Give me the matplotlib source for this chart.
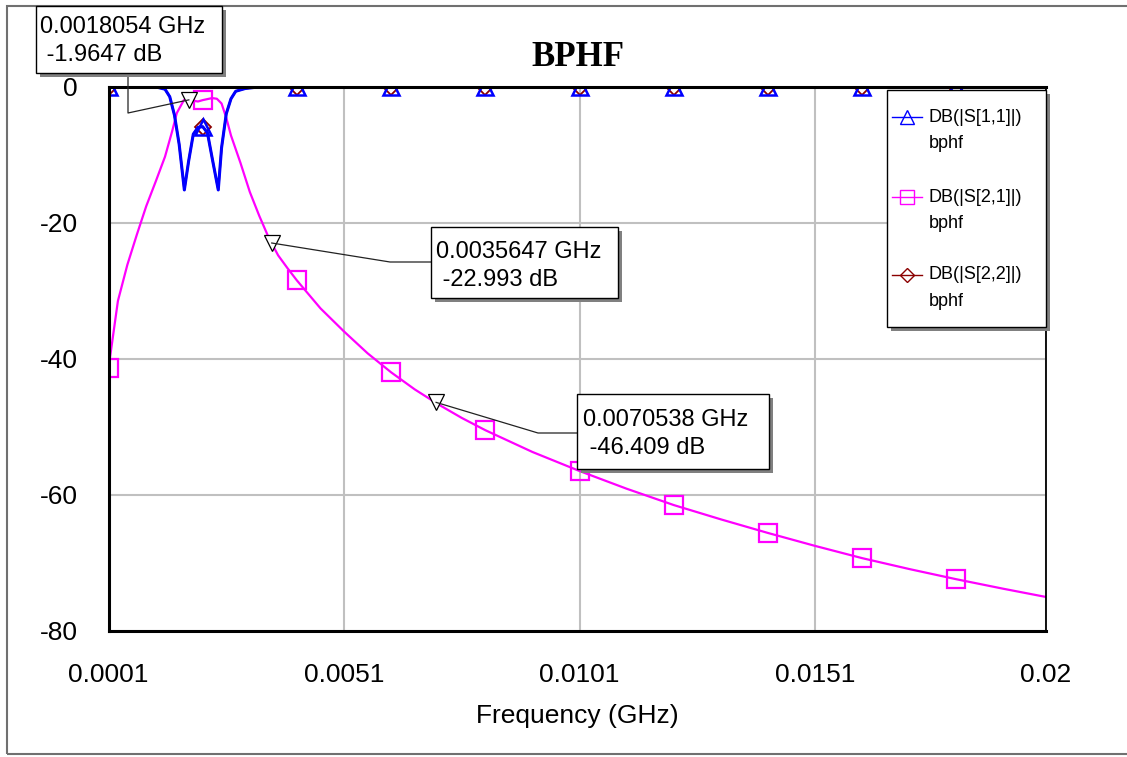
import numpy as np
import matplotlib
matplotlib.use('Agg')
import matplotlib.pyplot as plt
from matplotlib.patches import Rectangle
from matplotlib.lines import Line2D

plt.rcParams['font.family'] = ['Liberation Sans', 'DejaVu Sans']

W, H = 1127, 757

# S21 (magenta, squares)
s21_f = [0.0001, 0.0003, 0.0005, 0.0007, 0.0009, 0.0011, 0.0013, 0.00145, 0.00155,
         0.0017, 0.0018, 0.0019, 0.0020, 0.0021, 0.0023, 0.0024, 0.0025, 0.0026,
         0.0027, 0.0028, 0.0029, 0.0031, 0.0033, 0.0035, 0.0037, 0.0039, 0.0041,
         0.0046, 0.0051, 0.0056, 0.0061, 0.0066, 0.0071, 0.0076, 0.0081, 0.0091,
         0.0101, 0.0111, 0.0121, 0.0131, 0.0141, 0.0151, 0.0161, 0.0171, 0.0181,
         0.0191, 0.0200]
s21_db = [-41.4, -31.5, -26.2, -21.8, -17.6, -14.0, -10.3, -6.6, -3.9,
          -2.0, -1.8, -2.1, -2.2, -2.0, -1.7, -1.8, -2.5, -4.6,
          -7.2, -9.2, -11.2, -15.5, -19.0, -22.2, -24.8, -26.7, -28.5,
          -32.6, -36.0, -39.2, -42.0, -44.5, -46.7, -48.7, -50.5, -53.7,
          -56.5, -59.1, -61.5, -63.6, -65.6, -67.5, -69.3, -70.9, -72.4,
          -73.8, -75.0]

# S11 / S22 (blue triangles, dark red diamonds)
s11_f = [0.0001, 0.0011, 0.0013, 0.0014, 0.0015, 0.0016, 0.00171, 0.0018, 0.0019,
         0.0020, 0.0021, 0.0022, 0.0023, 0.00243, 0.0025, 0.0026, 0.0027, 0.0028,
         0.0030, 0.0033, 0.0041, 0.0061, 0.0081, 0.0101, 0.0121, 0.0141, 0.0161,
         0.0181, 0.0200]
s11_db = [0.0, -0.05, -0.4, -1.5, -4.2, -8.5, -15.2, -11.0, -7.0,
          -6.0, -5.9, -6.8, -10.5, -15.2, -9.0, -4.0, -1.8, -0.7,
          -0.3, -0.05, 0.0, 0.0, 0.0, 0.0, 0.0, 0.0, 0.0,
          0.0, 0.0]
s22_f = s11_f
s22_db = s11_db

marker_f = [0.0001, 0.0021, 0.0041, 0.0061, 0.0081, 0.0101, 0.0121, 0.0141, 0.0161, 0.0181]

# marker readouts
mk_f = [0.0018054, 0.0035647, 0.0070538]
mk_db = [-1.9647, -22.993, -46.409]

xticks = [0.0001, 0.0051, 0.0101, 0.0151, 0.02]
xtick_labels = ['0.0001', '0.0051', '0.0101', '0.0151', '0.02']
yticks = [0, -20, -40, -60, -80]

legend_names = ['DB(|S[1,1]|)', 'DB(|S[2,1]|)', 'DB(|S[2,2]|)']

C_S11 = '#0000ff'
C_S21 = '#ff00ff'
C_S22 = '#8b0000'


def fpx(x, y):
    # pixel (top-left origin) -> figure fraction
    return x / W, 1 - y / H


def idx(fs, marks):
    fs = np.array(fs)
    return [int(np.argmin(np.abs(fs - m))) for m in marks]


fig = plt.figure(figsize=(W / 100, H / 100), dpi=100)
l, b = fpx(108.5, 631)
r, t = fpx(1046, 86.5)
ax = fig.add_axes([l, b, r - l, t - b])

ax.plot(s22_f, s22_db, color=C_S22, lw=1.5, marker='D', ms=8, mfc='none', mew=1.3,
        markevery=idx(s22_f, marker_f))
ax.plot(s21_f, s21_db, color=C_S21, lw=1.6, marker='s', ms=12.5, mfc='none', mew=1.6,
        markevery=idx(s21_f, marker_f))
ax.plot(s11_f, s11_db, color=C_S11, lw=2.2, marker='^', ms=12, mfc='none', mew=1.8,
        markevery=idx(s11_f, marker_f))

ax.plot(mk_f, mk_db, ls='none', marker='v', ms=11, mfc='white', mec='black', mew=0.9,
        clip_on=False, zorder=5)

ax.set_xlim(0.0001, 0.02)
ax.set_ylim(-80, 0)
ax.set_xticks(xticks)
ax.set_xticklabels(xtick_labels)
ax.set_yticks(yticks)
ax.set_yticklabels([str(v) for v in yticks])
ax.tick_params(length=0, labelsize=19)
ax.tick_params(axis='x', pad=23)
ax.tick_params(axis='y', pad=22)
ax.grid(True, color='#c0c0c0', lw=1.5)
ax.set_axisbelow(True)
for side in ['left', 'bottom', 'top']:
    ax.spines[side].set_linewidth(2.2)
ax.spines['right'].set_linewidth(1.3)
ax.set_xlabel('Frequency (GHz)', fontsize=19, labelpad=12)

# title
fig.text(*fpx(578, 57), 'BPHF', fontsize=25, fontweight='bold',
         family=['Liberation Serif', 'DejaVu Serif'], ha='center', va='center')

# outer frame
x0, y0 = fpx(7, 754)
x1, y1 = fpx(1130, 6)
fig.add_artist(Rectangle((x0, y0), x1 - x0, y1 - y0, transform=fig.transFigure,
                         fill=False, edgecolor='#707070', lw=1.5))


def shadow_box(xa, ya, xb, yb, off=4):
    sx0, sy0 = fpx(xa + off, yb + off)
    sx1, sy1 = fpx(xb + off, ya + off)
    fig.add_artist(Rectangle((sx0, sy0), sx1 - sx0, sy1 - sy0, transform=fig.transFigure,
                             facecolor='#808080', edgecolor='none', zorder=3))
    bx0, by0 = fpx(xa, yb)
    bx1, by1 = fpx(xb, ya)
    fig.add_artist(Rectangle((bx0, by0), bx1 - bx0, by1 - by0, transform=fig.transFigure,
                             facecolor='white', edgecolor='black', lw=1.0, zorder=4))


# marker readout boxes: box (x0, y0, x1, y1), text left x, line y's, connector pts
boxes = [
    ((36, 6, 222, 73), 40, (27, 55), [(128, 73), (128, 113)]),
    ((431, 227, 618, 298), 436, (252, 280), [(431, 262), (390, 262)]),
    ((577, 394, 769, 469), 583, (420, 448), [(577, 433), (538, 433)]),
]
inv = fig.transFigure.inverted()
for (bx, tx, ty, conn), f, db in zip(boxes, mk_f, mk_db):
    mx, my = inv.transform(ax.transData.transform((f, db)))
    pts = [fpx(*p) for p in conn] + [(mx, my)]
    fig.add_artist(Line2D([p[0] for p in pts], [p[1] for p in pts], transform=fig.transFigure,
                          color='#222222', lw=0.9, zorder=2))
    shadow_box(*bx)
    fig.text(*fpx(tx, ty[0]), f'{f:.5g} GHz', fontsize=17, va='center', ha='left', zorder=6)
    fig.text(*fpx(tx, ty[1]), f' {db:.5g} dB', fontsize=17, va='center', ha='left', zorder=6)

# legend
shadow_box(887, 90, 1046, 327)
leg_y = [117, 197, 275]
leg_style = [(C_S11, '^', 10), (C_S21, 's', 9.5), (C_S22, 'D', 7.5)]
for name, ly, (c, m, ms) in zip(legend_names, leg_y, leg_style):
    xa, ya = fpx(892, ly)
    xb, _ = fpx(922, ly)
    xm, _ = fpx(907, ly)
    fig.add_artist(Line2D([xa, xb], [ya, ya], transform=fig.transFigure, color=c, lw=1.0,
                          zorder=5))
    fig.add_artist(Line2D([xm], [ya], transform=fig.transFigure, color=c, marker=m, ms=ms,
                          mfc='none', mew=1.0, zorder=5))
    fig.text(*fpx(929, ly), name, fontsize=13, va='center', ha='left', zorder=6)
    fig.text(*fpx(929, ly + 26), 'bphf', fontsize=13, va='center', ha='left', zorder=6)

fig.savefig('out.png', dpi=100)
